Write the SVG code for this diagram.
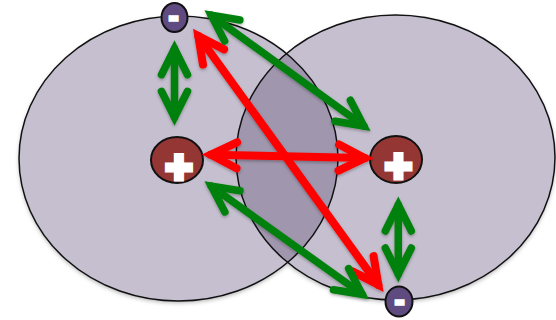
<svg xmlns="http://www.w3.org/2000/svg" width="556" height="320" viewBox="0 0 556 320">
  <style>
    .atom { fill: #c5bfcf; }
    .edge { fill: none; stroke: #111; stroke-width: 1.5; }
    .electron { fill: #5f4b80; stroke: #111; stroke-width: 2; }
    .proton { fill: #943634; stroke: #111; stroke-width: 2; }
    .sign { fill: #fff; stroke: #fff; font-family: "Liberation Sans", Arial, sans-serif; font-weight: bold; text-anchor: middle; }
    .plus { font-size: 46px; stroke-width: 5; }
    .minus { font-size: 26px; stroke-width: 3.5; }
    .arr { fill: none; stroke-linecap: round; stroke-linejoin: miter; }
    .g { stroke: #00800a; stroke-width: 7.5; }
    .r { stroke: #ff0000; stroke-width: 8; }
  </style>
  <defs>
    <filter id="sh" x="-10%" y="-10%" width="120%" height="130%">
      <feDropShadow dx="0" dy="2" stdDeviation="2" flood-color="#000" flood-opacity="0.3"/>
    </filter>
    <filter id="ash" x="-20%" y="-20%" width="140%" height="140%">
      <feDropShadow dx="0" dy="1.5" stdDeviation="1.5" flood-color="#000" flood-opacity="0.3"/>
    </filter>
    <clipPath id="clipRight">
      <ellipse cx="395.5" cy="157.5" rx="159.5" ry="142.5"/>
    </clipPath>
    <marker id="hg" markerUnits="userSpaceOnUse" orient="auto-start-reverse" refX="0" refY="0" markerWidth="40" markerHeight="40" overflow="visible">
      <path class="arr g" d="M-26,-13 L0,0 L-26,13"/>
    </marker>
    <marker id="hr" markerUnits="userSpaceOnUse" orient="auto-start-reverse" refX="0" refY="0" markerWidth="40" markerHeight="40" overflow="visible">
      <path class="arr r" d="M-26,-13 L0,0 L-26,13"/>
    </marker>
  </defs>

  <g id="atoms" filter="url(#sh)">
    <g id="atom-left">
      <ellipse class="atom" cx="178.5" cy="158.5" rx="159.5" ry="142.5"/>
    </g>
    <g id="atom-right">
      <ellipse class="atom" cx="395.5" cy="157.5" rx="159.5" ry="142.5"/>
    </g>
  </g>
  <g id="overlap">
    <ellipse cx="178.5" cy="158.5" rx="159.5" ry="142.5" fill="#a096ae" clip-path="url(#clipRight)"/>
    <ellipse class="edge" cx="178.5" cy="158.5" rx="159.5" ry="142.5"/>
    <ellipse class="edge" cx="395.5" cy="157.5" rx="159.5" ry="142.5"/>
  </g>

  <g id="proton-left">
    <ellipse class="proton" cx="177" cy="160" rx="26" ry="23"/>
    <text class="sign plus" x="179" y="182.5">+</text>
  </g>
  <g id="proton-right">
    <ellipse class="proton" cx="396" cy="159.5" rx="26" ry="23.5"/>
    <text class="sign plus" x="398.5" y="181.5">+</text>
  </g>
  <g id="electron-top">
    <ellipse class="electron" cx="174.5" cy="17.5" rx="13" ry="14.5"/>
    <text class="sign minus" x="173.5" y="24.5">-</text>
  </g>
  <g id="electron-bottom">
    <ellipse class="electron" cx="399" cy="301.5" rx="13.5" ry="15"/>
    <text class="sign minus" x="399.5" y="308.5">-</text>
  </g>

  <g id="connectors" filter="url(#ash)">
    <line class="arr g" x1="174.5" y1="48.7" x2="174.5" y2="117.3" marker-start="url(#hg)" marker-end="url(#hg)"/>
    <line class="arr g" x1="398.3" y1="205" x2="398.3" y2="274" marker-start="url(#hg)" marker-end="url(#hg)"/>
    <line class="arr r" x1="210.8" y1="154.7" x2="364.8" y2="158.1" marker-start="url(#hr)" marker-end="url(#hr)"/>
    <line class="arr r" x1="198.3" y1="35.9" x2="378.3" y2="284.8" marker-start="url(#hr)" marker-end="url(#hr)"/>
    <line class="arr g" x1="211.2" y1="15.2" x2="363.8" y2="126" marker-start="url(#hg)" marker-end="url(#hg)"/>
    <line class="arr g" x1="211.3" y1="186.2" x2="362.2" y2="294.3" marker-start="url(#hg)" marker-end="url(#hg)"/>
  </g>
</svg>
